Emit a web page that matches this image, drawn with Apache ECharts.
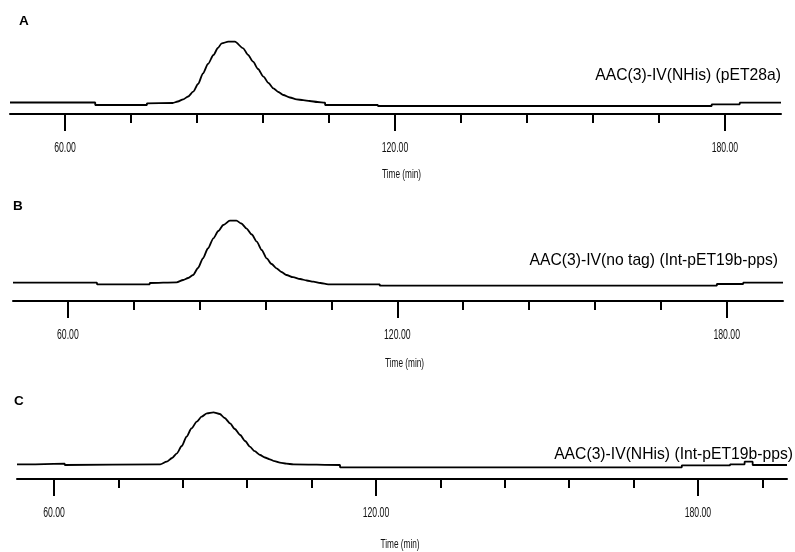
<!DOCTYPE html>
<html>
<head>
<meta charset="utf-8">
<script src="https://cdn.jsdelivr.net/npm/echarts@6/dist/echarts.min.js"></script>
<style>html,body{margin:0;padding:0;background:#fff}#c{width:795px;height:552px}</style>
</head>
<body>
<div id="c"></div>
<script>
// Panel labels and sample names
const panelLetters = ['A', 'B', 'C'];
const sampleNames = ['AAC(3)-IV(NHis) (pET28a)', 'AAC(3)-IV(no tag) (Int-pET19b-pps)', 'AAC(3)-IV(NHis) (Int-pET19b-pps)'];
const axisTitle = 'Time (min)';

// Tick values (min)
const majorTicks = [60, 120, 180];
const minorTicksAB = [72, 84, 96, 108, 132, 144, 156, 168];
const minorTicksC = [72, 84, 96, 108, 132, 144, 156, 168, 192];

// Time ranges shown
const rangeA = [50, 190.2];
const rangeB = [50, 190.25];
const rangeC = [53.1, 196.6];

// Chromatogram A: [time (min), signal]
const traceA = [
  [50, 11.5], [65.5, 11.5], [65.5, 9], [74.9, 9], [74.9, 10.7], [79.6, 11],
  [80.5, 12.5], [81.5, 14.7], [82.4, 17.5], [83.3, 22.3], [84.2, 30], [85.1, 40.7],
  [86.0, 50], [87.0, 59], [87.8, 66], [88.5, 70.7], [89.7, 72.3], [90.9, 72.3],
  [92.4, 65.7], [93.3, 59], [94.2, 52.3], [95.1, 45], [96.1, 37.3], [97.0, 31],
  [97.9, 25.7], [98.8, 22], [99.7, 19], [100.9, 16.5], [102.1, 14.7], [103.3, 13.8],
  [104.5, 13], [105.9, 12], [107.3, 11.3], [107.3, 9], [116.9, 9], [116.9, 8],
  [177.6, 8], [177.6, 9.7], [182.7, 9.7], [182.7, 11.3], [190.2, 11.3]
];

// Chromatogram B
const traceB = [
  [50, 18.3], [65.3, 18.3], [65.3, 16.7], [74.9, 16.7], [74.9, 18], [79.8, 18.7],
  [81.0, 21], [81.9, 23], [82.8, 26], [83.7, 33], [84.6, 42.7], [85.5, 52.5],
  [86.5, 62.7], [87.4, 70], [88.3, 76], [89.5, 80.3], [90.7, 80.3], [91.6, 77.5],
  [92.5, 72.7], [93.5, 66.5], [94.4, 59.3], [95.3, 51], [96.2, 42.7], [97.1, 37],
  [98.0, 32.7], [98.9, 29], [99.8, 26], [101.0, 23.8], [102.3, 22], [103.5, 20.5],
  [104.7, 19.3], [106.0, 18], [107.4, 16.7], [116.8, 16.7], [116.8, 15.3],
  [178.2, 15.3], [178.2, 17], [183, 17], [183, 18.3], [190.25, 18.3]
];

// Chromatogram C
const traceC = [
  [53.1, 14.7], [56.5, 14.7], [56.5, 15.3], [62, 15.3], [62, 14], [79.8, 14.7],
  [81.0, 17.3], [82.0, 21], [82.9, 25.7], [83.8, 33], [84.7, 42.3], [85.6, 50.5],
  [86.6, 57.3], [87.5, 62.3], [88.5, 65.7], [89.7, 66.7], [90.9, 65], [91.8, 61],
  [92.8, 55.7], [93.7, 50], [94.7, 44], [95.6, 38], [96.5, 32.3], [97.4, 27.8],
  [98.4, 24], [99.3, 21.5], [100.2, 19.7], [101.1, 17.8], [102.1, 16.3], [103.3, 15.3],
  [104.6, 14.7], [113.3, 14], [113.3, 11.7], [177, 11.7], [177, 13.7], [186, 13.7],
  [186, 14.7], [188.7, 14.7], [188.7, 17.3], [190.2, 17.3], [190.2, 14], [196.6, 14]
];

const panels = [
  {trace: traceA, range: rangeA, minor: minorTicksAB, grid: {left: 10, width: 771, top: 34, height: 80}, ymax: 80,
   nameCenter: [401.5, 174.5], letterPos: {left: 19, top: 14}, namePos: {right: 14, top: 68}},
  {trace: traceB, range: rangeB, minor: minorTicksAB, grid: {left: 13, width: 770, top: 211, height: 90}, ymax: 90,
   nameCenter: [404.5, 364], letterPos: {left: 13, top: 199}, namePos: {right: 17, top: 253}},
  {trace: traceC, range: rangeC, minor: minorTicksC, grid: {left: 17, width: 770, top: 399, height: 80}, ymax: 80,
   nameCenter: [400, 545], letterPos: {left: 14, top: 394}, namePos: {right: 2, top: 447}}
];

const narrowFont = "'Liberation Sans', Arial, sans-serif";
const grids = [], xAxes = [], yAxes = [], series = [], titles = [];

panels.forEach((p, i) => {
  grids.push(Object.assign({containLabel: false}, p.grid));
  xAxes.push({
    type: 'value', gridIndex: i, min: p.range[0], max: p.range[1], position: 'bottom',
    axisLine: {show: true, onZero: false, lineStyle: {color: '#000', width: 2}},
    axisTick: {show: true, inside: false, length: 17, customValues: majorTicks, lineStyle: {color: '#000', width: 2}},
    axisLabel: {show: false},
    splitLine: {show: false}
  });
  xAxes.push({
    type: 'value', gridIndex: i, min: p.range[0], max: p.range[1], position: 'bottom',
    axisLine: {show: false, onZero: false},
    axisTick: {show: true, length: 9, customValues: p.minor, lineStyle: {color: '#000', width: 2}},
    axisLabel: {show: false},
    splitLine: {show: false}
  });
  yAxes.push({type: 'value', gridIndex: i, min: 0, max: p.ymax, show: false, splitLine: {show: false}});
  series.push({
    type: 'line', xAxisIndex: 2 * i, yAxisIndex: i, data: p.trace, showSymbol: false, symbol: 'none',
    smooth: 0.25, smoothMonotone: 'x',
    lineStyle: {color: '#000', width: 1.8}, animation: false, silent: true
  });
  titles.push({text: panelLetters[i], left: p.letterPos.left, top: p.letterPos.top, padding: 0,
    textStyle: {fontFamily: "'Liberation Sans', Arial, sans-serif", fontWeight: 'bold', fontSize: 13.5, color: '#000'}});
  titles.push({text: sampleNames[i], right: p.namePos.right, top: p.namePos.top, padding: 0,
    textStyle: {fontFamily: "'Liberation Sans', Arial, sans-serif", fontWeight: 'normal', fontSize: 15.7, color: '#000'}});
});

const chart = echarts.init(document.getElementById('c'), null, {renderer: 'canvas'});
chart.setOption({
  backgroundColor: '#fff',
  animation: false,
  title: titles,
  grid: grids,
  xAxis: xAxes,
  yAxis: yAxes,
  series: series
});

// Condensed tick labels and axis titles placed through the axes' own scales
const graphics = [];
panels.forEach((p, i) => {
  const axisY = chart.convertToPixel({gridIndex: i}, [p.range[0], 0])[1];
  majorTicks.forEach(v => {
    const px = chart.convertToPixel({xAxisIndex: 2 * i}, v);
    graphics.push({
      type: 'text', x: px, y: axisY + 34, scaleX: 0.62, silent: true,
      style: {text: v.toFixed(2), font: '14px ' + narrowFont, fill: '#111',
        textAlign: 'center', textVerticalAlign: 'middle', align: 'center', verticalAlign: 'middle'}
    });
  });
  graphics.push({
    type: 'text', x: p.nameCenter[0], y: p.nameCenter[1], scaleX: 0.66, silent: true,
    style: {text: axisTitle, font: '12.5px ' + narrowFont, fill: '#111',
      textAlign: 'center', textVerticalAlign: 'middle', align: 'center', verticalAlign: 'middle'}
  });
});
chart.setOption({graphic: {elements: graphics}});
</script>
</body>
</html>
